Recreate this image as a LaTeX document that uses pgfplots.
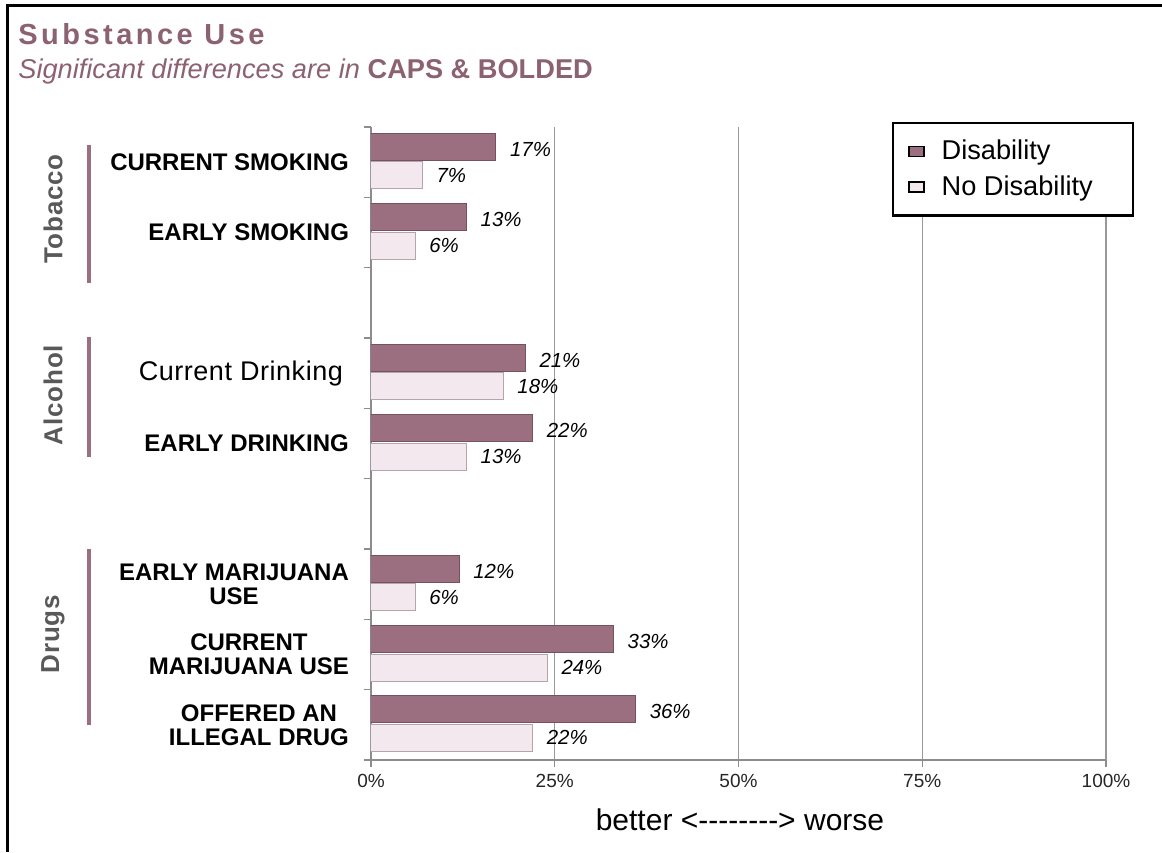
\documentclass[border=0pt]{standalone}
\usepackage{fontspec}
\setmainfont{Liberation Sans}
\usepackage{pgfplots}
\pgfplotsset{compat=1.18}
\definecolor{mauve}{HTML}{8C6172}
\definecolor{brk}{HTML}{9B6F7F}
\definecolor{grp}{HTML}{595959}
\definecolor{dis}{HTML}{9B6F80}
\definecolor{disEdge}{HTML}{76525F}
\definecolor{nod}{HTML}{F3E8ED}
\definecolor{nodEdge}{HTML}{B5A4AC}
\begin{document}
\begin{tikzpicture}
\useasboundingbox (-185.5pt,-46pt) rectangle (395.5pt,380pt);
% frame
\draw[line width=1.5pt] (-182.5pt,377.25pt) -- (395.5pt,377.25pt);
\draw[line width=1.5pt] (-181.75pt,378pt) -- (-181.75pt,-46pt);
% titles
\node[anchor=base west, inner sep=0pt, text=mauve, font=\fontsize{14.5}{17}\selectfont\bfseries\addfontfeatures{LetterSpace=12}] at (-176.5pt,357.5pt) {Substance Use};
\node[anchor=base west, inner sep=0pt, text=mauve, font=\fontsize{13.6}{15}\selectfont] at (-176.5pt,340.5pt) {\itshape Significant differences are in \upshape\bfseries CAPS \& BOLDED};
% group brackets and labels
\draw[brk, line width=2pt] (-141pt,307.5pt) -- (-141pt,238.5pt);
\draw[brk, line width=2pt] (-141pt,211.5pt) -- (-141pt,151.5pt);
\draw[brk, line width=2pt] (-141pt,105.5pt) -- (-141pt,17.5pt);
\node[rotate=90, text=grp, font=\fontsize{13}{13}\selectfont\bfseries\addfontfeatures{LetterSpace=3}] at (-159pt,275.5pt) {Tobacco};
\node[rotate=90, text=grp, font=\fontsize{13}{13}\selectfont\bfseries\addfontfeatures{LetterSpace=3}] at (-159pt,182.5pt) {Alcohol};
\node[rotate=90, text=grp, font=\fontsize{13}{13}\selectfont\bfseries\addfontfeatures{LetterSpace=3}] at (-159pt,63pt) {Drugs};
\begin{axis}[
  at={(0,0)}, anchor=south west,
  width=367.5pt, height=316.5pt, scale only axis,
  xmin=0, xmax=100, ymin=0, ymax=9,
  /pgf/number format/assume math mode=true,
  xtick={0,25,50,75,100},
  xticklabels={0\%,25\%,50\%,75\%,100\%},
  xticklabel style={font=\fontsize{9.5}{10}\selectfont, text=black!85},
  ytick={0,...,9}, yticklabels={},
  extra y ticks={8.5,7.5,5.5,4.5,2.5,1.5,0.5},
  extra y tick labels={CURRENT SMOKING, EARLY SMOKING, {\fontsize{13.5}{13.5}\selectfont\mdseries\addfontfeatures{LetterSpace=2}Current Drinking\hspace*{3pt}}, EARLY DRINKING, EARLY MARIJUANA\\USE, CURRENT\\MARIJUANA USE, OFFERED AN\\ILLEGAL DRUG},
  extra y tick style={tick style={draw=none}, yticklabel style={font=\fontsize{12}{12}\selectfont\bfseries, align=center, xshift=-4pt}},
  xmajorgrids,
  grid style={color=black!40, line width=0.6pt},
  axis x line*=bottom, axis y line*=left,
  axis line style={-, color=black!45, line width=0.6pt},
  tick style={color=black!45, line width=0.6pt},
  tick align=outside, major tick length=3.5pt,
  xlabel={better <-{}-{}-{}-{}-{}-{}-{}-> worse},
  xlabel style={at={(axis description cs:0.502,0)}, anchor=base, yshift=-35pt, font=\fontsize{15}{15}\selectfont},
  legend style={at={(axis description cs:1.038,1.008)}, anchor=north east, draw=black, line width=1.1pt, font=\fontsize{13.6}{14}\selectfont, inner xsep=7pt, inner ysep=6.5pt, row sep=2.5pt, cells={anchor=west}},
  point meta=x,
  nodes near coords={\pgfmathprintnumber{\pgfplotspointmeta}\%},
  nodes near coords style={font=\itshape\fontsize{10.2}{10}\selectfont, anchor=west, xshift=3.5pt, text=black},
]
\addplot[xbar, bar width=13.5pt, bar shift=7.75pt, draw=disEdge, line width=0.5pt, fill=dis,
  every node near coord/.append style={yshift=6.5pt},
  legend image code/.code={\path (-1pt,0pt) (14pt,0pt); \draw[draw=black, line width=0.9pt, fill=dis] (0pt,-2.5pt) rectangle (7.5pt,2.5pt);}]
  coordinates {(17,8.5) (13,7.5) (21,5.5) (22,4.5) (12,2.5) (33,1.5) (36,0.5)};
\addlegendentry{Disability}
\addplot[xbar, bar width=13.5pt, bar shift=-6.5pt, draw=nodEdge, line width=0.5pt, fill=nod,
  every node near coord/.append style={yshift=-6.5pt},
  legend image code/.code={\path (-1pt,0pt) (14pt,0pt); \draw[draw=black, line width=0.9pt, fill=nod] (0pt,-2.5pt) rectangle (7.5pt,2.5pt);}]
  coordinates {(7,8.5) (6,7.5) (18,5.5) (13,4.5) (6,2.5) (24,1.5) (22,0.5)};
\addlegendentry{No Disability\hspace*{11pt}}
\end{axis}
\end{tikzpicture}
\end{document}
